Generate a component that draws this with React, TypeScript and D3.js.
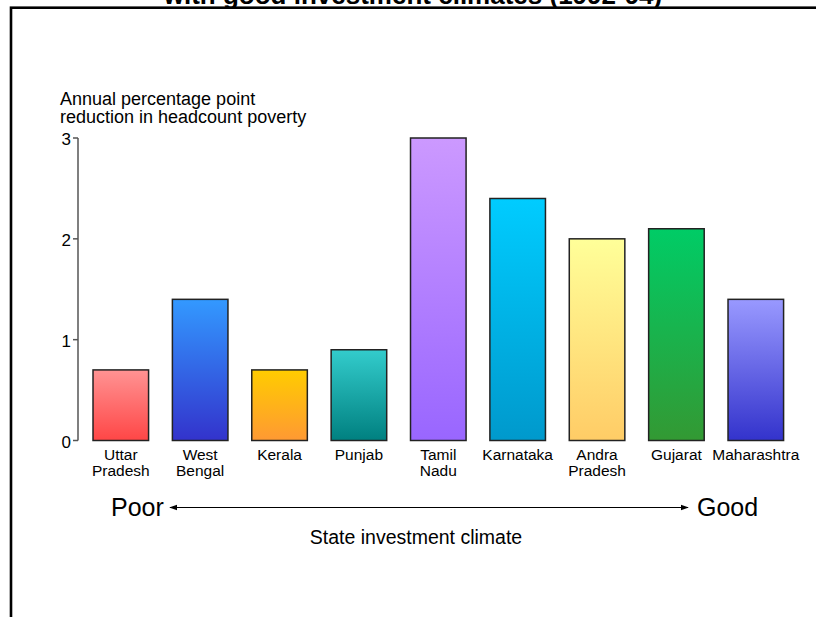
import React from "react";
import * as d3 from "d3";

// Annual percentage-point reduction in headcount poverty by state
const states = [
  "Uttar Pradesh",
  "West Bengal",
  "Kerala",
  "Punjab",
  "Tamil Nadu",
  "Karnataka",
  "Andra Pradesh",
  "Gujarat",
  "Maharashtra",
];
const stateLabelLines = [
  ["Uttar", "Pradesh"],
  ["West", "Bengal"],
  ["Kerala"],
  ["Punjab"],
  ["Tamil", "Nadu"],
  ["Karnataka"],
  ["Andra", "Pradesh"],
  ["Gujarat"],
  ["Maharashtra"],
];
const reduction = [0.7, 1.4, 0.7, 0.9, 3.0, 2.4, 2.0, 2.1, 1.4];
const yTicks = [0, 1, 2, 3];
// top and bottom colour of each bar's vertical gradient
const gradTop = ["#ff9393", "#3399ff", "#ffcc00", "#33cccc", "#cc99ff", "#00ccff", "#ffff99", "#00cc66", "#9999ff"];
const gradBottom = ["#ff4646", "#3333cc", "#ff9933", "#008080", "#9966ff", "#0099cc", "#ffcc66", "#339933", "#3333cc"];

const titleLine = "with good investment climates (1992-94)";
const yTitle = ["Annual percentage point", "reduction in headcount poverty"];
const axisLeftLabel = "Poor";
const axisRightLabel = "Good";
const axisCaption = "State investment climate";

const W = 816;
const H = 617;
const FONT = "Arial, 'Liberation Sans', Helvetica, sans-serif";

export default function App() {
  const x = d3.scaleBand<string>().domain(states).range([69.2, 807.4]).padding(0.3);
  const y = d3.scaleLinear().domain([0, 3]).range([440.5, 138]);
  const axisX = 78;

  return (
    <svg
      width={W}
      height={H}
      style={{ position: "absolute", left: 0, top: 0, background: "#fff" }}
      fontFamily={FONT}
    >
      <defs>
        {states.map((s, i) => (
          <linearGradient key={s} id={`g${i}`} x1="0" y1="0" x2="0" y2="1">
            <stop offset="0%" stopColor={gradTop[i]} />
            <stop offset="100%" stopColor={gradBottom[i]} />
          </linearGradient>
        ))}
        <marker id="arrowHead" viewBox="0 0 10 10" refX="9" refY="5" markerWidth="8" markerHeight="8" orient="auto-start-reverse" markerUnits="userSpaceOnUse">
          <path d="M0,1.5 L10,5 L0,8.5 Z" fill="#000" />
        </marker>
      </defs>

      {/* frame */}
      <rect x={11} y={7.7} width={W + 20} height={H + 20} fill="none" stroke="#000" strokeWidth={2.6} />

      {/* title (second line) */}
      <text x={413} y={4} textAnchor="middle" fontSize={26} fontWeight="bold" fill="#000">
        {titleLine}
      </text>

      {/* y axis title */}
      {yTitle.map((t, i) => (
        <text key={t} x={60} y={105 + i * 18} fontSize={18} fill="#000">
          {t}
        </text>
      ))}

      {/* y axis */}
      <line x1={axisX} x2={axisX} y1={y(3)} y2={y(0)} stroke="#555" strokeWidth={1.5} />
      {yTicks.map((t) => (
        <g key={t}>
          <line x1={axisX - 5} x2={axisX} y1={y(t)} y2={y(t)} stroke="#555" strokeWidth={1.5} />
          <text x={71} y={y(t) + 1} dy="0.36em" textAnchor="end" fontSize={17} fill="#000">
            {t}
          </text>
        </g>
      ))}

      {/* bars */}
      {states.map((s, i) => (
        <rect
          key={s}
          x={x(s)}
          y={y(reduction[i])}
          width={x.bandwidth()}
          height={y(0) - y(reduction[i])}
          fill={`url(#g${i})`}
          stroke="#222"
          strokeWidth={1.5}
        />
      ))}

      {/* category labels */}
      {states.map((s, i) => (
        <text key={s} x={(x(s) as number) + x.bandwidth() / 2} textAnchor="middle" fontSize={15.5} fill="#000">
          {stateLabelLines[i].map((ln, j) => (
            <tspan key={ln} x={(x(s) as number) + x.bandwidth() / 2} y={460 + j * 15.5}>
              {ln}
            </tspan>
          ))}
        </text>
      ))}

      {/* investment climate arrow */}
      <text x={111} y={516} fontSize={25} fill="#000">
        {axisLeftLabel}
      </text>
      <text x={697} y={516} fontSize={25} fill="#000">
        {axisRightLabel}
      </text>
      <line
        x1={170}
        x2={688}
        y1={507.5}
        y2={507.5}
        stroke="#000"
        strokeWidth={1}
        markerStart="url(#arrowHead)"
        markerEnd="url(#arrowHead)"
      />
      <text x={416} y={544} textAnchor="middle" fontSize={19.5} fill="#000">
        {axisCaption}
      </text>
    </svg>
  );
}
